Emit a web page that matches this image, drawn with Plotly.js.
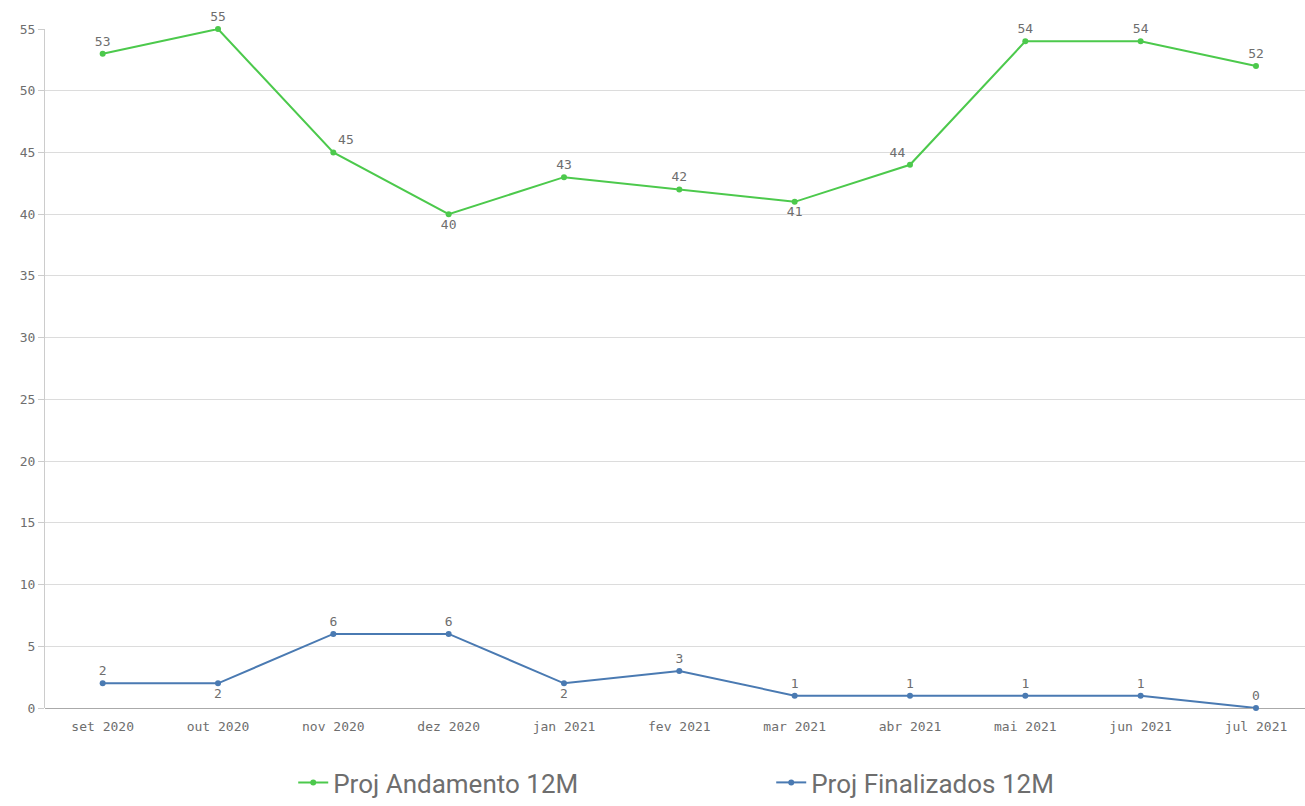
<!DOCTYPE html>
<html><head><meta charset="utf-8">
<script src="https://cdn.plot.ly/plotly-3.0.1.min.js"></script>
<style>html,body{margin:0;padding:0;background:#fff}#c{width:1305px;height:806px}</style>
</head><body><div id="c"></div>
<script>
const months = ["set 2020","out 2020","nov 2020","dez 2020","jan 2021","fev 2021","mar 2021","abr 2021","mai 2021","jun 2021","jul 2021"];
const andamento = [53,55,45,40,43,42,41,44,54,54,52];
const finalizados = [2,2,6,6,2,3,1,1,1,1,0];
const idx = months.map((m,i)=>i);
const posA = ["top center","top center","top right","bottom center","top center","top center","bottom center","top left","top center","top center","top center"];
const posF = ["top center","bottom center","top center","top center","bottom center","top center","top center","top center","top center","top center","top center"];
const tf = {family:"DejaVu Sans Mono, monospace", size:13, color:"#6e6e6e"};
const data = [
 {x:idx, y:andamento, name:"Proj Andamento 12M", type:"scatter", mode:"lines+markers+text",
  line:{color:"#4cc94c", width:2}, marker:{color:"#4cc94c", size:6},
  text:andamento.map(String), textposition:posA, textfont:tf, cliponaxis:false},
 {x:idx, y:finalizados, name:"Proj Finalizados 12M", type:"scatter", mode:"lines+markers+text",
  line:{color:"#4a7ab2", width:2}, marker:{color:"#4a7ab2", size:6},
  text:finalizados.map(String), textposition:posF, textfont:tf, cliponaxis:false}
];
const layout = {
 width:1305, height:806, margin:{l:45,r:0,t:29,b:98, autoexpand:false},
 paper_bgcolor:"#fff", plot_bgcolor:"#fff",
 xaxis:{range:[-0.5,10.425], tickvals:idx, ticktext:months, showgrid:false, zeroline:false,
   showline:false, ticks:"outside", ticklen:6, tickcolor:"rgba(0,0,0,0)", automargin:false,
   tickfont:{family:"DejaVu Sans Mono, monospace", size:13, color:"#6e6e6e"}},
 yaxis:{range:[0,55], dtick:5, showgrid:true, gridcolor:"#dcdcdc", zeroline:true, zerolinecolor:"#aaa",
   showline:true, linecolor:"#ccc", ticks:"outside", ticklen:6, tickcolor:"#ccc", automargin:false,
   tickfont:{family:"DejaVu Sans Mono, monospace", size:13, color:"#6e6e6e"}},
 showlegend:true,
 legend:{orientation:"h", x:0.197, xanchor:"left", yref:"container", y:0, yanchor:"bottom",
   font:{family:"Roboto, sans-serif", size:26, color:"#6e6e6e"}, itemwidth:30,
   entrywidth:433}
};
Plotly.newPlot("c", data, layout, {displayModeBar:false, staticPlot:true});
</script></body></html>
